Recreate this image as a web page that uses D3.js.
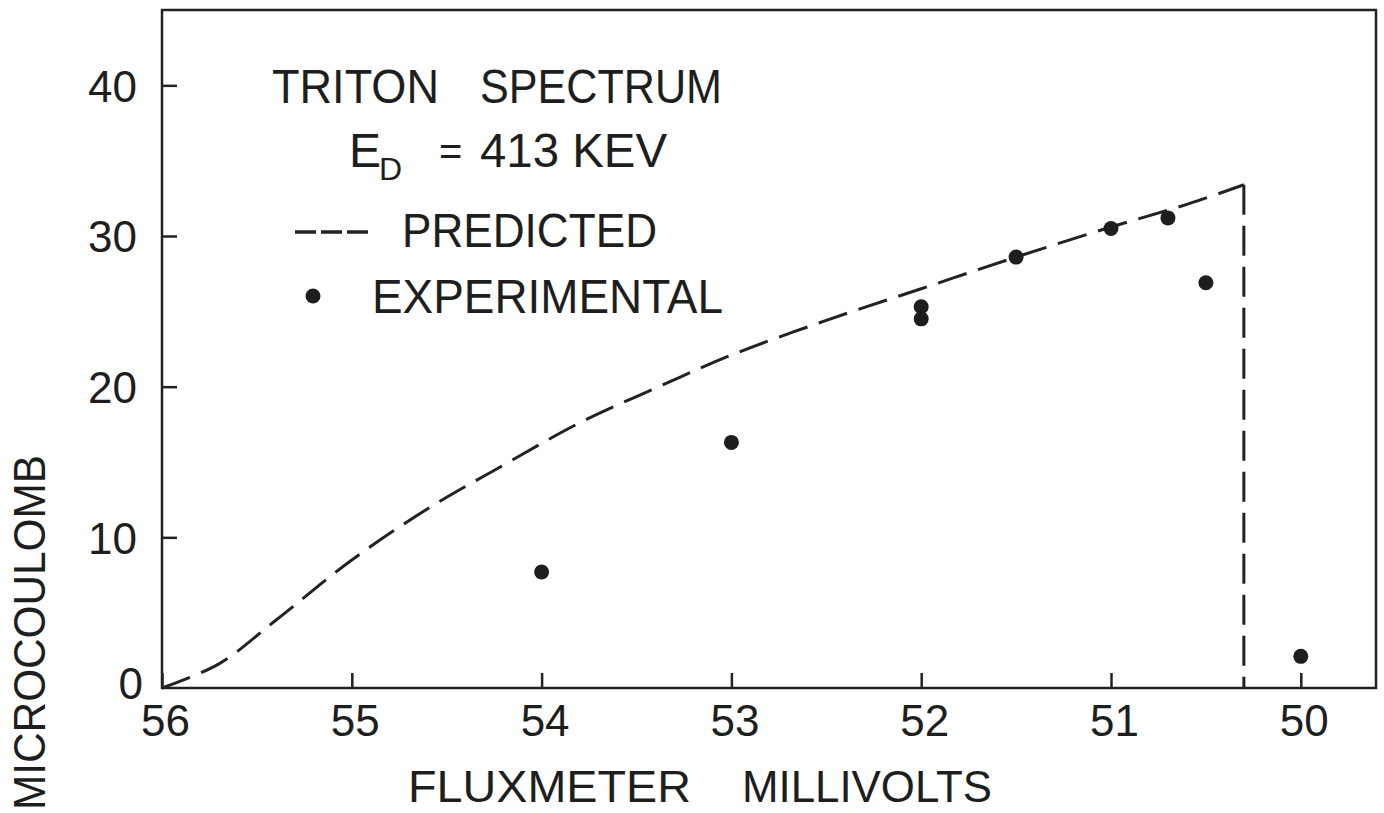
<!DOCTYPE html>
<html>
<head>
<meta charset="utf-8">
<script src="https://cdn.jsdelivr.net/npm/d3@7"></script>
<style>
  body { margin: 0; background: #fff; }
  svg { display: block; }
  text { font-family: "Liberation Sans", Arial, sans-serif; fill: #1e1e1e; }
</style>
</head>
<body>
<svg id="chart" width="1384" height="813"></svg>
<script>
// predicted curve (fluxmeter mV, microcoulomb)
const predX = [56, 55.7, 55.4, 55.0, 54.6, 54.2, 53.8, 53.4, 53.0, 52.5, 52.0, 51.5, 51.0, 50.6, 50.3];
const predY = [0, 1.6, 4.5, 8.5, 11.9, 14.8, 17.6, 19.9, 22.1, 24.4, 26.5, 28.6, 30.6, 32.1, 33.4];
const cutoff = 50.3;

// experimental points
const expX = [54, 53, 52, 52, 51.5, 51, 50.7, 50.5, 50];
const expY = [7.7, 16.3, 25.3, 24.5, 28.6, 30.5, 31.2, 26.9, 2.1];

const xTicks = [56, 55, 54, 53, 52, 51, 50];
const yTicks = [0, 10, 20, 30, 40];

const margin = {top: 10, right: 8, bottom: 125, left: 162},
      W = 1384, H = 813,
      width = W - margin.left - margin.right,
      height = H - margin.top - margin.bottom;

const svg = d3.select('#chart');
const g = svg.append('g')
  .attr('transform', `translate(${margin.left},${margin.top})`);

const x = d3.scaleLinear()
  .domain([56, 56 - width / 189.8])
  .range([0, width]);
const y = d3.scaleLinear()
  .domain([0, 45])
  .range([height, 0]);

const ink = '#222';

// axes with inward ticks
const xAxis = g.append('g')
  .attr('transform', `translate(0,${height})`)
  .call(d3.axisBottom(x).tickValues(xTicks).tickSize(-15).tickSizeOuter(0).tickPadding(17).tickFormat(d3.format('d')));
const yAxis = g.append('g')
  .call(d3.axisLeft(y).tickValues(yTicks).tickSize(-15).tickSizeOuter(0).tickPadding(25).tickFormat(d3.format('d')));

[xAxis, yAxis].forEach(a => {
  a.select('.domain').remove();
  a.selectAll('line').attr('stroke', ink).attr('stroke-width', 2.5);
  a.selectAll('text')
    .style('font-family', '"Liberation Sans", Arial, sans-serif')
    .attr('fill', '#1e1e1e')
    .attr('font-size', 44);
});
xAxis.selectAll('text').attr('dx', 3);
yAxis.selectAll('text').attr('dy', '0.36em');
yAxis.selectAll('.tick').filter(d => d === 0).select('text')
  .attr('x', -19).attr('dy', '0.24em');
yAxis.selectAll('.tick').filter(d => d === 0).select('line').remove();

// frame
g.append('rect')
  .attr('x', 0).attr('y', 0)
  .attr('width', width).attr('height', height)
  .attr('fill', 'none')
  .attr('stroke', ink)
  .attr('stroke-width', 2.5);

// predicted spectrum
const pred = predX.map((v, i) => [v, predY[i]]);
const line = d3.line()
  .x(d => x(d[0]))
  .y(d => y(d[1]))
  .curve(d3.curveCatmullRom.alpha(0.5));

g.append('path')
  .datum(pred)
  .attr('d', line)
  .attr('fill', 'none')
  .attr('stroke', ink)
  .attr('stroke-width', 3)
  .attr('stroke-dasharray', '30,12');

g.append('line')
  .attr('x1', x(cutoff)).attr('x2', x(cutoff))
  .attr('y1', y(predY[predY.length - 1])).attr('y2', y(0))
  .attr('stroke', ink)
  .attr('stroke-width', 3)
  .attr('stroke-dasharray', '30,11');

// experimental points
g.selectAll('.pt')
  .data(expX.map((v, i) => [v, expY[i]]))
  .enter()
  .append('circle')
  .classed('pt', true)
  .attr('cx', d => x(d[0]))
  .attr('cy', d => y(d[1]))
  .attr('r', 7.5)
  .attr('fill', '#1e1e1e');

// fitted text helper
function label(txt, xPos, yPos, size, len) {
  const t = svg.append('text')
    .attr('x', xPos).attr('y', yPos)
    .attr('font-size', size)
    .text(txt);
  if (len) t.attr('textLength', len).attr('lengthAdjust', 'spacingAndGlyphs');
  return t;
}

// legend block
label('TRITON', 272, 103, 48, 167);
label('SPECTRUM', 480, 103, 48, 242);

label('E', 349, 167, 48);
label('D', 379, 180, 32);
label('=', 439, 165, 40);
label('413 KEV', 480, 167, 48, 187);

svg.append('line')
  .attr('x1', 295).attr('x2', 368)
  .attr('y1', 232).attr('y2', 232)
  .attr('stroke', ink)
  .attr('stroke-width', 3.5)
  .attr('stroke-dasharray', '21,5');
label('PREDICTED', 402, 247, 48, 255);

svg.append('circle').attr('cx', 313).attr('cy', 296).attr('r', 7.5).attr('fill', '#1e1e1e');
label('EXPERIMENTAL', 372, 313, 48, 351);

// axis titles
label('FLUXMETER', 408, 802, 44, 283);
label('MILLIVOLTS', 742, 802, 44, 250);

svg.append('text')
  .attr('transform', 'translate(45,810) rotate(-90)')
  .attr('font-size', 44)
  .attr('textLength', 355)
  .attr('lengthAdjust', 'spacingAndGlyphs')
  .text('MICROCOULOMB');
</script>
</body>
</html>
